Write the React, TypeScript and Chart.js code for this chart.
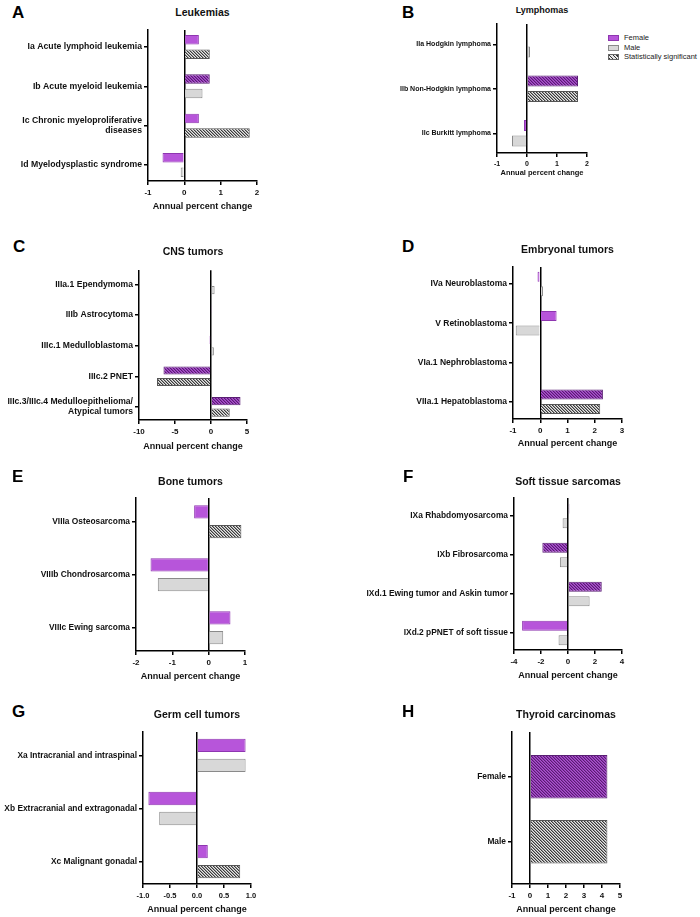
import React, { useEffect, useRef } from 'react';
import { Chart, registerables } from 'chart.js';

Chart.register(...registerables);

const FONT = '"Liberation Sans", Arial, Helvetica, sans-serif';

// ---------- Data ----------
// A Leukemias
const leukemiaCategories = ['Ia Acute lymphoid leukemia', 'Ib Acute myeloid leukemia', ['Ic Chronic myeloproliferative', 'diseases'], 'Id Myelodysplastic syndrome'];
const leukemiaFemale = [0.4, 0.7, 0.4, -0.6];
const leukemiaMale = [0.7, 0.5, 1.8, -0.1];
const leukemiaFemaleSig = [false, true, false, false];
const leukemiaMaleSig = [true, false, true, false];
const leukemiaTicks = [-1, 0, 1, 2];
const leukemiaTickLabels = ['-1', '0', '1', '2'];

// B Lymphomas
const lymphomaCategories = ['IIa Hodgkin lymphoma', 'IIb Non-Hodgkin lymphoma', 'IIc Burkitt lymphoma'];
const lymphomaFemale = [null, 1.7, -0.1];
const lymphomaMale = [0.1, 1.7, -0.5];
const lymphomaFemaleSig = [false, true, false];
const lymphomaMaleSig = [false, true, false];
const lymphomaTicks = [-1, 0, 1, 2];
const lymphomaTickLabels = ['-1', '0', '1', '2'];

// C CNS tumors
const cnsCategories = ['IIIa.1 Ependymoma', 'IIIb Astrocytoma', 'IIIc.1 Medulloblastoma', 'IIIc.2 PNET', ['IIIc.3/IIIc.4 Medulloepithelioma/', 'Atypical tumors']];
const cnsFemale = [null, 0.15, -0.2, -6.6, 4.1];
const cnsMale = [0.5, 0.1, 0.4, -7.5, 2.6];
const cnsFemaleSig = [false, false, false, true, true];
const cnsMaleSig = [false, false, false, true, true];
const cnsTicks = [-10, -5, 0, 5];
const cnsTickLabels = ['-10', '-5', '0', '5'];

// D Embryonal tumors
const embryonalCategories = ['IVa Neuroblastoma', 'V Retinoblastoma', 'VIa.1 Nephroblastoma', 'VIIa.1 Hepatoblastoma'];
const embryonalFemale = [-0.1, 0.6, null, 2.3];
const embryonalMale = [0.1, -0.9, null, 2.2];
const embryonalFemaleSig = [false, false, false, true];
const embryonalMaleSig = [false, false, false, true];
const embryonalTicks = [-1, 0, 1, 2, 3];
const embryonalTickLabels = ['-1', '0', '1', '2', '3'];

// E Bone tumors
const boneCategories = ['VIIIa Osteosarcoma', 'VIIIb Chondrosarcoma', 'VIIIc Ewing sarcoma'];
const boneFemale = [-0.4, -1.6, 0.6];
const boneMale = [0.9, -1.4, 0.4];
const boneFemaleSig = [false, false, false];
const boneMaleSig = [true, false, false];
const boneTicks = [-2, -1, 0, 1];
const boneTickLabels = ['-2', '-1', '0', '1'];

// F Soft tissue sarcomas
const softCategories = ['IXa Rhabdomyosarcoma', 'IXb Fibrosarcoma', 'IXd.1 Ewing tumor and Askin tumor', 'IXd.2 pPNET of soft tissue'];
const softFemale = [0.1, -1.9, 2.5, -3.4];
const softMale = [-0.4, -0.6, 1.6, -0.7];
const softFemaleSig = [true, true, true, false];
const softMaleSig = [false, false, false, false];
const softTicks = [-4, -2, 0, 2, 4];
const softTickLabels = ['-4', '-2', '0', '2', '4'];

// G Germ cell tumors
const germCategories = ['Xa Intracranial and intraspinal', 'Xb Extracranial and extragonadal', 'Xc Malignant gonadal'];
const germFemale = [0.9, -0.9, 0.2];
const germMale = [0.9, -0.7, 0.8];
const germFemaleSig = [false, false, false];
const germMaleSig = [false, false, true];
const germTicks = [-1, -0.5, 0, 0.5, 1];
const germTickLabels = ['-1.0', '-0.5', '0.0', '0.5', '1.0'];

// H Thyroid carcinomas
const thyroidCategories = ['Female', 'Male'];
const thyroidValues = [4.3, 4.3];
const thyroidSig = [true, true];
const thyroidTicks = [-1, 0, 1, 2, 3, 4, 5];
const thyroidTickLabels = ['-1', '0', '1', '2', '3', '4', '5'];

// ---------- Styles ----------
const PURPLE = '#B755DA';
const PURPLE_BORDER = '#8E36B0';
const GREY = '#D8D8D8';
const GREY_BORDER = '#8A8A8A';

function makePattern(base: string, dark: string, mid: string) {
  const c = document.createElement('canvas');
  c.width = 3;
  c.height = 3;
  const g = c.getContext('2d')!;
  g.fillStyle = base;
  g.fillRect(0, 0, 3, 3);
  for (let i = 0; i < 3; i++) {
    g.fillStyle = dark;
    g.fillRect(i, i, 1, 1);
    g.fillStyle = mid;
    g.fillRect((i + 1) % 3, i, 1, 1);
  }
  return g.createPattern(c, 'repeat')!;
}

const PAD_TOP = 10;
const PAD_RIGHT = 14;
const X_AXIS_H = 22;

type Panel = {
  letter: string;
  title: string;
  canvasLeft: number;
  plotLeft: number;
  plotRight: number;
  plotTop: number;
  plotBottom: number;
  catFirst: number;
  catLast: number;
  categories: any[];
  female?: (number | null)[];
  male?: (number | null)[];
  femaleSig?: boolean[];
  maleSig?: boolean[];
  single?: number[];
  singleSig?: boolean[];
  ticks: number[];
  tickLabels: string[];
  labelSize: number;
  tickSize: number;
  titleSize: number;
  xTitleSize: number;
  catPct: number;
  barPct: number;
  letterX: number;
  letterY: number;
  titleY: number;
  xTitleY: number;
};

const panels: Panel[] = [
  { letter: 'A', title: 'Leukemias', canvasLeft: 0, plotLeft: 148, plotRight: 257, plotTop: 30, plotBottom: 181, catFirst: 47, catLast: 165,
    categories: leukemiaCategories, female: leukemiaFemale, male: leukemiaMale, femaleSig: leukemiaFemaleSig, maleSig: leukemiaMaleSig,
    ticks: leukemiaTicks, tickLabels: leukemiaTickLabels, labelSize: 8.7, tickSize: 8, titleSize: 10.5, xTitleSize: 9,
    catPct: 0.737, barPct: 0.655, letterX: 12, letterY: 12, titleY: 12, xTitleY: 206 },
  { letter: 'B', title: 'Lymphomas', canvasLeft: 350, plotLeft: 497, plotRight: 587, plotTop: 24, plotBottom: 153, catFirst: 44.3, catLast: 133.3,
    categories: lymphomaCategories, female: lymphomaFemale, male: lymphomaMale, femaleSig: lymphomaFemaleSig, maleSig: lymphomaMaleSig,
    ticks: lymphomaTicks, tickLabels: lymphomaTickLabels, labelSize: 7, tickSize: 7, titleSize: 9, xTitleSize: 7.5,
    catPct: 0.697, barPct: 0.71, letterX: 402, letterY: 12, titleY: 10, xTitleY: 173 },
  { letter: 'C', title: 'CNS tumors', canvasLeft: 0, plotLeft: 139, plotRight: 247, plotTop: 268, plotBottom: 420, catFirst: 282.3, catLast: 406.7,
    categories: cnsCategories, female: cnsFemale, male: cnsMale, femaleSig: cnsFemaleSig, maleSig: cnsMaleSig,
    ticks: cnsTicks, tickLabels: cnsTickLabels, labelSize: 8.6, tickSize: 8, titleSize: 10.5, xTitleSize: 9,
    catPct: 0.752, barPct: 0.71, letterX: 13, letterY: 246, titleY: 251, xTitleY: 446 },
  { letter: 'D', title: 'Embryonal tumors', canvasLeft: 350, plotLeft: 513, plotRight: 622, plotTop: 267, plotBottom: 419, catFirst: 284, catLast: 401.7,
    categories: embryonalCategories, female: embryonalFemale, male: embryonalMale, femaleSig: embryonalFemaleSig, maleSig: embryonalMaleSig,
    ticks: embryonalTicks, tickLabels: embryonalTickLabels, labelSize: 8.5, tickSize: 8, titleSize: 10.5, xTitleSize: 9,
    catPct: 0.74, barPct: 0.69, letterX: 402, letterY: 246, titleY: 249, xTitleY: 443 },
  { letter: 'E', title: 'Bone tumors', canvasLeft: 0, plotLeft: 136, plotRight: 245, plotTop: 498, plotBottom: 651, catFirst: 521.7, catLast: 627.7,
    categories: boneCategories, female: boneFemale, male: boneMale, femaleSig: boneFemaleSig, maleSig: boneMaleSig,
    ticks: boneTicks, tickLabels: boneTickLabels, labelSize: 8.4, tickSize: 8, titleSize: 10.5, xTitleSize: 9,
    catPct: 0.743, barPct: 0.675, letterX: 12, letterY: 476, titleY: 481, xTitleY: 676 },
  { letter: 'F', title: 'Soft tissue sarcomas', canvasLeft: 350, plotLeft: 514, plotRight: 622, plotTop: 498, plotBottom: 650, catFirst: 516, catLast: 633,
    categories: softCategories, female: softFemale, male: softMale, femaleSig: softFemaleSig, maleSig: softMaleSig,
    ticks: softTicks, tickLabels: softTickLabels, labelSize: 8.4, tickSize: 8, titleSize: 10.5, xTitleSize: 9,
    catPct: 0.754, barPct: 0.68, letterX: 403, letterY: 476, titleY: 481, xTitleY: 675 },
  { letter: 'G', title: 'Germ cell tumors', canvasLeft: 0, plotLeft: 143, plotRight: 251, plotTop: 732, plotBottom: 884, catFirst: 755.3, catLast: 861.7,
    categories: germCategories, female: germFemale, male: germMale, femaleSig: germFemaleSig, maleSig: germMaleSig,
    ticks: germTicks, tickLabels: germTickLabels, labelSize: 8.4, tickSize: 7.5, titleSize: 10.5, xTitleSize: 9,
    catPct: 0.752, barPct: 0.665, letterX: 12, letterY: 711, titleY: 714, xTitleY: 909 },
  { letter: 'H', title: 'Thyroid carcinomas', canvasLeft: 350, plotLeft: 512, plotRight: 620, plotTop: 732, plotBottom: 884, catFirst: 776.7, catLast: 841.7,
    categories: thyroidCategories, single: thyroidValues, singleSig: thyroidSig,
    ticks: thyroidTicks, tickLabels: thyroidTickLabels, labelSize: 8.4, tickSize: 8, titleSize: 10.5, xTitleSize: 9,
    catPct: 0.9, barPct: 0.744, letterX: 402, letterY: 711, titleY: 714, xTitleY: 909 },
];

function PanelChart({ p }: { p: Panel }) {
  const ref = useRef<HTMLCanvasElement>(null);
  const canvasTop = p.plotTop - PAD_TOP;
  const width = p.plotRight + PAD_RIGHT - p.canvasLeft;
  const height = p.plotBottom + X_AXIS_H - canvasTop;

  useEffect(() => {
    const purpleHatch = makePattern('#AC52CF', '#5A1C72', '#8A3AAD');
    const greyHatch = makePattern('#E6E6E6', '#3A3A3A', '#9A9A9A');
    let datasets: any[] = [];
    if (p.single) {
      datasets = [{
        data: p.single,
        backgroundColor: p.categories.map((_, i) => (i === 0 ? (p.singleSig![i] ? purpleHatch : PURPLE) : (p.singleSig![i] ? greyHatch : GREY))),
        borderColor: p.categories.map((_, i) => (i === 0 ? '#5A1F74' : '#555555')),
        borderWidth: 1,
        categoryPercentage: p.catPct,
        barPercentage: p.barPct,
      }];
    } else {
      datasets = [
        {
          label: 'Female',
          data: p.female,
          backgroundColor: p.female!.map((_, i) => (p.femaleSig![i] ? purpleHatch : PURPLE)),
          borderColor: p.female!.map((_, i) => (p.femaleSig![i] ? '#5A1F74' : PURPLE_BORDER)),
          borderWidth: 1,
          categoryPercentage: p.catPct,
          barPercentage: p.barPct,
        },
        {
          label: 'Male',
          data: p.male,
          backgroundColor: p.male!.map((_, i) => (p.maleSig![i] ? greyHatch : GREY)),
          borderColor: p.male!.map((_, i) => (p.maleSig![i] ? '#555555' : GREY_BORDER)),
          borderWidth: 1,
          categoryPercentage: p.catPct,
          barPercentage: p.barPct,
        },
      ];
    }
    const n = p.categories.length;
    const unit = (p.catLast - p.catFirst) / (n - 1);
    const startValue = -(p.catFirst - p.plotTop) / unit;
    const valueRange = (p.plotBottom - p.plotTop) / unit;
    const chart = new Chart(ref.current!, {
      type: 'bar',
      data: { labels: p.categories, datasets },
      options: {
        indexAxis: 'y',
        animation: false,
        responsive: false,
        events: [],
        layout: { padding: { top: PAD_TOP, right: PAD_RIGHT, left: 0, bottom: 0 } },
        plugins: { legend: { display: false }, tooltip: { enabled: false }, title: { display: false } },
        scales: {
          x: {
            type: 'linear',
            min: p.ticks[0],
            max: p.ticks[p.ticks.length - 1],
            afterBuildTicks: (s: any) => { s.ticks = p.ticks.map((v) => ({ value: v })); },
            afterFit: (s: any) => { s.height = X_AXIS_H; },
            ticks: {
              callback: (_v: any, i: number) => p.tickLabels[i],
              font: { family: FONT, size: p.tickSize, weight: 'bold' },
              color: '#111',
              padding: 3,
              maxRotation: 0,
              autoSkip: false,
            },
            grid: {
              color: (ctx: any) => (ctx.tick && ctx.tick.value === 0 ? '#000' : 'rgba(0,0,0,0)'),
              tickColor: '#000',
              lineWidth: 1.5,
              tickLength: 4,
            },
            border: { display: true, color: '#000', width: 1.5 },
          },
          y: {
            type: 'category',
            afterBuildTicks: (s: any) => { s._startValue = startValue; s._valueRange = valueRange; },
            afterFit: (s: any) => { s.width = p.plotLeft - p.canvasLeft; },
            ticks: {
              font: { family: FONT, size: p.labelSize, weight: 'bold' },
              color: '#111',
              padding: 2,
              autoSkip: false,
            },
            grid: { offset: false, drawOnChartArea: false, tickColor: '#000', tickLength: 4, lineWidth: 1.5 },
            border: { display: true, color: '#000', width: 1.5 },
          },
        },
      } as any,
    });
    return () => chart.destroy();
  }, [p]);

  const textBase: React.CSSProperties = { position: 'absolute', fontFamily: FONT, whiteSpace: 'nowrap', lineHeight: 1, color: '#111' };
  const cx = (p.plotLeft + p.plotRight) / 2;
  return (
    <>
      <div style={{ ...textBase, left: p.letterX, top: p.letterY, transform: 'translateY(-50%)', fontSize: 17, fontWeight: 'bold', color: '#000' }}>{p.letter}</div>
      <div style={{ ...textBase, left: cx, top: p.titleY, transform: 'translate(-50%,-50%)', fontSize: p.titleSize, fontWeight: 'bold' }}>{p.title}</div>
      <canvas ref={ref} width={width} height={height} style={{ position: 'absolute', left: p.canvasLeft, top: canvasTop, width, height }} />
      <div style={{ ...textBase, left: cx, top: p.xTitleY, transform: 'translate(-50%,-50%)', fontSize: p.xTitleSize, fontWeight: 'bold' }}>Annual percent change</div>
    </>
  );
}

const legendItems = ['Female', 'Male', 'Statistically significant'];

function Legend() {
  const swatches: React.CSSProperties[] = [
    { background: PURPLE, border: `1px solid ${PURPLE_BORDER}` },
    { background: GREY, border: `1px solid ${GREY_BORDER}` },
    { background: 'repeating-linear-gradient(45deg, #333 0px, #333 1px, #e6e6e6 1px, #e6e6e6 2.5px)', border: '1px solid #666' },
  ];
  const ys = [38, 47.5, 57];
  return (
    <>
      {legendItems.map((t, i) => (
        <React.Fragment key={t}>
          <div style={{ position: 'absolute', left: 608, top: ys[i] - 3, width: 9, height: 4, ...swatches[i] }} />
          <div style={{ position: 'absolute', left: 624, top: ys[i], transform: 'translateY(-50%)', fontFamily: FONT, fontSize: 7.5, lineHeight: 1, color: '#222', whiteSpace: 'nowrap' }}>{t}</div>
        </React.Fragment>
      ))}
    </>
  );
}

export default function App() {
  return (
    <div style={{ position: 'absolute', left: 0, top: 0, width: 700, height: 917, background: '#fff', overflow: 'hidden' }}>
      {panels.map((p) => <PanelChart key={p.letter} p={p} />)}
      <Legend />
    </div>
  );
}
